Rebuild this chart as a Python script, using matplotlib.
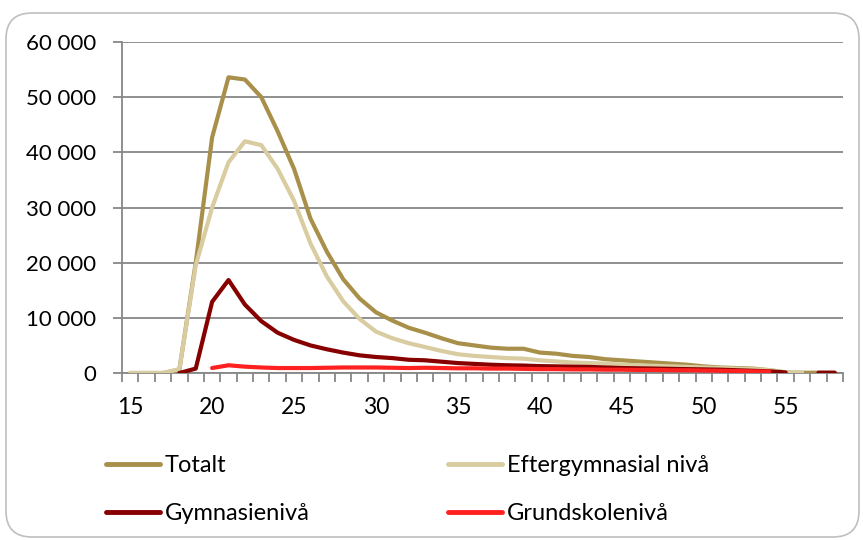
import numpy as np
import matplotlib
matplotlib.use("Agg")
import matplotlib.pyplot as plt
from matplotlib.patches import FancyBboxPatch
from matplotlib.ticker import FixedLocator, FuncFormatter

plt.rcParams['font.family'] = ['Lato', 'DejaVu Sans']

ages = list(range(15, 59))
N = None

totalt = [0, 0, 0, 600, 20000, 42700, 53600, 53200, 50000, 43800,
          37000, 28000, 22000, 17000, 13500, 11000, 9500, 8200, 7300, 6300,
          5400, 5000, 4600, 4400, 4400, 3700, 3500, 3100, 2900, 2500,
          2300, 2100, 1900, 1700, 1500, 1200, 1000, 900, 800, 500,
          100, 50, 50, 50]

eftergymnasial = [0, 0, 0, 700, 19500, 30000, 38200, 42000, 41300, 37000,
                  31200, 23500, 17500, 13000, 9800, 7500, 6300, 5400, 4700, 4000,
                  3400, 3100, 2900, 2700, 2600, 2300, 2100, 1900, 1800, 1700,
                  1500, 1400, 1300, 1200, 1100, 1000, 900, 800, 700, 550,
                  150, 100, N, N]

gymnasie = [N, N, N, 0, 800, 12900, 16850, 12400, 9400, 7300,
            6000, 5000, 4300, 3700, 3200, 2900, 2700, 2400, 2300, 2050,
            1800, 1650, 1500, 1400, 1350, 1250, 1200, 1150, 1100, 1000,
            900, 850, 800, 750, 700, 650, 600, 500, 400, 300,
            100, N, 50, 50]

grundskole = [N, N, N, N, N, 900, 1400, 1150, 1000, 900,
              900, 900, 950, 1000, 1000, 1000, 950, 900, 950, 900,
              850, 850, 800, 800, 750, 700, 700, 650, 650, 600,
              600, 550, 550, 500, 500, 450, 400, 350, 300, 250,
              N, N, N, N]

series_names = ["Totalt", "Eftergymnasial nivå", "Gymnasienivå", "Grundskolenivå"]
series_values = [totalt, eftergymnasial, gymnasie, grundskole]
series_colors = ["#A8904A", "#D9CCA0", "#870000", "#FF2020"]

y_ticks = [0, 10000, 20000, 30000, 40000, 50000, 60000]
x_labels = [15, 20, 25, 30, 35, 40, 45, 50, 55]

W, H = 863, 540
fig = plt.figure(figsize=(W / 100, H / 100), dpi=100)

# rounded chart frame
frame = FancyBboxPatch((6 / W, 3 / H), 853 / W, 524 / H,
                       boxstyle="round,pad=0,rounding_size=0.03",
                       transform=fig.transFigure, facecolor="none",
                       edgecolor="#BFBFBF", linewidth=1.2, zorder=-1,
                       mutation_aspect=W / H)
fig.patches.append(frame)

ax = fig.add_axes([122 / W, 1 - 373 / H, (843 - 122) / W, (373 - 42) / H])
ax.set_facecolor("none")

x = np.array(ages, dtype=float)
for name, vals, col in zip(series_names, series_values, series_colors):
    y = np.array([np.nan if v is None else v for v in vals], dtype=float)
    ax.plot(x, y, color=col, lw=3.0, solid_capstyle="round",
            solid_joinstyle="round", label=name, zorder=3)

ax.set_xlim(ages[0] - 0.5, ages[-1] + 0.5)
ax.set_ylim(0, 60000)

grid_col = "#878787"
ax.set_yticks(y_ticks)
ax.yaxis.set_major_formatter(FuncFormatter(lambda v, p: f"{int(v):,}".replace(",", " ")))
ax.grid(axis="y", color=grid_col, lw=1.3, zorder=1)
ax.set_axisbelow(True)

# ticks on category boundaries, labels at every fifth category
ax.xaxis.set_major_locator(FixedLocator(np.arange(ages[0] - 0.5, ages[-1] + 1.0, 1.0)))
ax.xaxis.set_major_formatter(FuncFormatter(lambda v, p: ""))
ax.xaxis.set_minor_locator(FixedLocator(x_labels))
ax.xaxis.set_minor_formatter(FuncFormatter(lambda v, p: f"{int(v)}"))
ax.tick_params(axis="x", which="major", direction="out", length=6.5,
               width=1.3, color=grid_col)
ax.tick_params(axis="x", which="minor", length=0, pad=17, labelsize=16.5)
ax.tick_params(axis="y", direction="out", length=6.5, width=1.3,
               color=grid_col, pad=12, labelsize=16)

for s in ["top", "right"]:
    ax.spines[s].set_visible(False)
for s in ["left", "bottom"]:
    ax.spines[s].set_color(grid_col)
    ax.spines[s].set_linewidth(1.3)

handles, labels = ax.get_legend_handles_labels()
order = [0, 2, 1, 3]
leg = fig.legend([handles[i] for i in order], [labels[i] for i in order],
                 ncol=2, loc="upper left", bbox_to_anchor=(106 / W, 1 - 455 / H),
                 frameon=False, fontsize=17, handlelength=2.3,
                 handletextpad=0.2, columnspacing=5.85, labelspacing=1.15,
                 borderaxespad=0, borderpad=0)
for lh in leg.get_lines():
    lh.set_linewidth(3.5)

fig.savefig("out.png", dpi=100)
